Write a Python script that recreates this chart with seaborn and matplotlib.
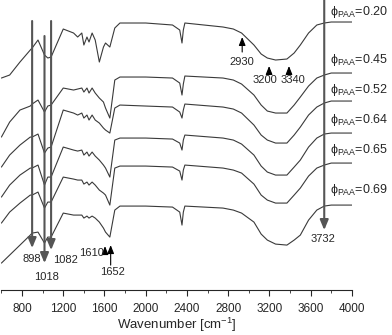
import numpy as np
import pandas as pd
import matplotlib
matplotlib.use("Agg")
import matplotlib.pyplot as plt
import seaborn as sns
from matplotlib.ticker import MultipleLocator

# wavenumber grid (cm^-1)
wavenumber = [600, 680, 780, 880, 898, 955, 1018, 1050, 1082, 1200, 1300, 1340, 1380, 1400,
              1430, 1450, 1480, 1510, 1550, 1590, 1610, 1652, 1700, 1750, 2000, 2260, 2330,
              2352, 2365, 2380, 2750, 2850, 2930, 3050, 3120, 3180, 3260, 3370, 3440, 3500,
              3580, 3660, 3732, 3800, 4000]

# stacked transmittance traces (arbitrary units, offsets included)
t_020 = [222, 225, 238, 250, 252, 260, 245, 242, 243, 271, 267, 263, 267, 255, 263, 258, 267, 260,
         238, 253, 257, 253, 272, 277, 277, 275, 270, 257, 270,
         277, 273, 271, 267, 255, 246, 242, 240, 241, 247, 255, 267, 275, 277, 278, 278]
t_045 = [163, 178, 190, 194, 196, 200, 188, 194, 195, 212, 210, 211, 212, 208, 212, 207, 212, 207,
         202, 198, 192, 182, 220, 223, 223, 222, 217, 205, 216,
         224, 222, 220, 216, 205, 195, 189, 187, 187, 195, 203, 214, 222, 225, 227, 227]
t_052 = [133, 145, 155, 163, 163, 166, 147, 152, 153, 190, 187, 185, 187, 182, 185, 180, 185, 180,
         177, 172, 170, 167, 192, 195, 194, 193, 188, 182, 190,
         196, 193, 191, 187, 175, 165, 160, 157, 157, 165, 173, 185, 193, 197, 199, 199]
t_064 = [103, 115, 125, 132, 132, 135, 115, 123, 123, 153, 150, 149, 150, 145, 148, 144, 148, 144,
         140, 135, 132, 123, 160, 162, 162, 161, 157, 150, 160,
         165, 162, 160, 156, 145, 134, 128, 125, 125, 133, 140, 153, 162, 166, 167, 167]
t_065 = [77, 88, 97, 105, 105, 108, 92, 98, 98, 123, 121, 120, 120, 116, 118, 115, 118, 115,
         110, 107, 105, 95, 132, 134, 134, 133, 129, 120, 130,
         135, 132, 130, 127, 116, 105, 100, 97, 97, 105, 112, 124, 132, 135, 137, 137]
t_069 = [37, 45, 55, 65, 67, 68, 57, 63, 63, 87, 85, 85, 85, 82, 84, 82, 84, 82,
         78, 72, 68, 63, 90, 94, 94, 93, 88, 75, 88,
         94, 92, 90, 87, 78, 66, 60, 56, 55, 60, 65, 80, 90, 94, 95, 95]

phi_labels = ["0.20", "0.45", "0.52", "0.64", "0.65", "0.69"]
phi_label_y = [288, 240, 210, 180, 150, 110]
traces = [t_020, t_045, t_052, t_064, t_065, t_069]

# marked bands: (wavenumber, line start, arrow tip, label text, label x, label y)
long_arrows = [(898, 279, 52, "898", 898, 41),
               (1018, 264, 37, "1018", 1040, 23),
               (1082, 279, 50, "1082", 1218, 40),
               (3732, 300, 70, "3732", 3720, 61)]
short_arrows = [(1605, 48, 54, "1610", 1470, 47),
                (1660, 35, 55, "1652", 1680, 28),
                (2936, 248, 263, "2930", 2936, 238),
                (3197, 228, 234, "3200", 3157, 220),
                (3390, 228, 234, "3340", 3424, 220)]

rows = []
for lab, tr in zip(phi_labels, traces):
    for w, t in zip(wavenumber, tr):
        rows.append({"wn": w, "T": t, "phi": lab})
df = pd.DataFrame(rows)

sns.set_style("ticks")
plt.rcParams["font.family"] = ["Liberation Sans", "DejaVu Sans"]

fig = plt.figure(figsize=(3.92, 3.35), dpi=100)
ax = fig.add_axes([0.0036, 0.134, 0.894, 0.866])

sns.lineplot(data=df, x="wn", y="T", units="phi", estimator=None, color="#3a3a3a",
             linewidth=0.8, ax=ax, sort=False)

for w, y0, y1, txt, tx, ty in long_arrows:
    ax.annotate("", xy=(w, y1), xytext=(w, y0),
                arrowprops=dict(arrowstyle="-|>,head_length=0.6,head_width=0.25",
                                color="#555555", lw=1.5, shrinkA=0, shrinkB=0))
    ax.text(tx, ty, txt, ha="center", va="center", fontsize=8)

for w, y0, y1, txt, tx, ty in short_arrows:
    ax.annotate("", xy=(w, y1), xytext=(w, y0),
                arrowprops=dict(arrowstyle="-|>,head_length=0.5,head_width=0.2",
                                color="black", lw=0.8, shrinkA=0, shrinkB=0))
    ax.text(tx, ty, txt, ha="center", va="center", fontsize=8)

for lab, y in zip(phi_labels, phi_label_y):
    ax.text(3790, y, "ϕ$_{\\mathregular{PAA}}$=" + lab, ha="left", va="center",
            fontsize=9, clip_on=False)

ax.set_xlim(600, 4000)
ax.set_ylim(10, 300)
ax.xaxis.set_major_locator(MultipleLocator(400))
ax.xaxis.set_minor_locator(MultipleLocator(200))
ax.tick_params(axis="x", which="major", direction="out", length=4, labelsize=8.5, pad=5)
ax.tick_params(axis="x", which="minor", direction="out", length=2.5)
ax.set_yticks([])
ax.set_ylabel("")
ax.set_xlabel("Wavenumber [cm$^{\\mathregular{-1}}$]", fontsize=9.5)
ax.xaxis.set_label_coords(0.5, -0.09)
for s in ["left", "right", "top"]:
    ax.spines[s].set_visible(False)
ax.spines["bottom"].set_linewidth(0.8)

fig.savefig("out.png", dpi=100)
